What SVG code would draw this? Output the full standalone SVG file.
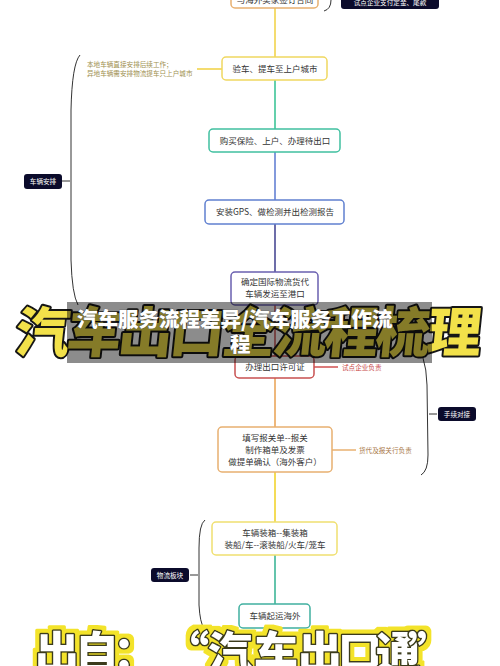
<svg xmlns="http://www.w3.org/2000/svg" width="500" height="666" viewBox="0 0 500 666">
<style>
.node rect{fill:#fff;stroke-width:1.5}
.nt{font-family:"Noto Sans CJK SC","Noto Sans",sans-serif;font-size:8.5px;fill:#333;text-anchor:middle}
.ann{font-family:"Noto Sans CJK SC","Noto Sans",sans-serif;font-size:6.6px}
.tag rect{fill:#0b0b2b}
.tag text{font-family:"Noto Sans CJK SC","Noto Sans",sans-serif;font-size:6.6px;fill:#fff;text-anchor:middle}
.br{fill:none;stroke:#333;stroke-width:1}
.big{font-family:"Noto Sans CJK SC",sans-serif;font-weight:900}
</style>
<defs>
<filter id="yglow" x="-5%" y="-30%" width="110%" height="160%">
<feMorphology in="SourceAlpha" operator="dilate" radius="4" result="d"/>
<feFlood flood-color="#f3e32a"/>
<feComposite in2="d" operator="in" result="y"/>
<feMerge><feMergeNode in="y"/><feMergeNode in="SourceGraphic"/></feMerge>
</filter>
</defs>
<rect width="500" height="666" fill="#fff"/>
<g id="connectors" fill="none" stroke-width="1.5">
<line x1="275" y1="8" x2="275" y2="57" stroke="#f0d040"/>
<line x1="275" y1="80" x2="275" y2="129" stroke="#30c090"/>
<line x1="275" y1="152" x2="275" y2="200" stroke="#5a78d0"/>
<line x1="275" y1="224" x2="275" y2="272" stroke="#3c3c8c"/>
<line x1="275" y1="305" x2="275" y2="356" stroke="#c85050"/>
<line x1="275" y1="378" x2="275" y2="427" stroke="#e8a050"/>
<line x1="275" y1="472" x2="275" y2="522" stroke="#f0d020"/>
<line x1="275" y1="555" x2="275" y2="604" stroke="#30b090"/>
<line x1="197" y1="69" x2="222" y2="69" stroke="#f0d040"/>
<line x1="314" y1="367" x2="338" y2="367" stroke="#d05050"/>
<line x1="332" y1="450" x2="356" y2="450" stroke="#e8b070"/>
<path class="br" d="M331,0 Q331,9 324,11"/>
<path class="br" d="M80,55 Q72,64 71,110 L71,260 Q72,294 78,305"/>
<line class="br" x1="62" y1="181" x2="70" y2="181"/>
<path class="br" d="M413,343 Q426,352 427,385 L428,455 Q428,471 421,475"/>
<line class="br" x1="429" y1="414" x2="437" y2="414"/>
<path class="br" d="M205,520 Q199,524 199,548 L199,605 Q200,623 204,628"/>
<line class="br" x1="190" y1="575" x2="198" y2="575"/>
</g>
<g id="n1" class="node"><rect x="231" y="-15" width="87" height="23" rx="4" stroke="#e8b070"/><text class="nt" x="275" y="3">与海外买家签订合同</text></g>
<g id="n2" class="node"><rect x="222" y="57" width="105" height="23" rx="4" stroke="#f0d860"/><text class="nt" x="275" y="72">验车、提车至上户城市</text></g>
<g id="n3" class="node"><rect x="209" y="129" width="131" height="23" rx="4" stroke="#40c0a0"/><text class="nt" x="275" y="144">购买保险、上户、办理待出口</text></g>
<g id="n4" class="node"><rect x="205" y="200" width="139" height="24" rx="4" stroke="#6080d0"/><text class="nt" x="275" y="215">安装GPS、做检测并出检测报告</text></g>
<g id="n5" class="node"><rect x="231" y="272" width="87" height="33" rx="4" stroke="#6a60b0"/><text class="nt" x="275" y="285">确定国际物流货代</text><text class="nt" x="275" y="297">车辆发运至港口</text></g>
<g id="n6" class="node"><rect x="235" y="356" width="79" height="22" rx="4" stroke="#c85050"/><text class="nt" x="275" y="370">办理出口许可证</text></g>
<g id="n7" class="node"><rect x="218" y="427" width="114" height="45" rx="4" stroke="#e8b070"/><text class="nt" x="275" y="441">填写报关单--报关</text><text class="nt" x="275" y="453">制作箱单及发票</text><text class="nt" x="275" y="465">做提单确认（海外客户）</text></g>
<g id="n8" class="node"><rect x="212" y="522" width="125" height="33" rx="4" stroke="#f0e070"/><text class="nt" x="275" y="536">车辆装箱--集装箱</text><text class="nt" x="275" y="548">装船/车--滚装船/火车/笼车</text></g>
<g id="n9" class="node"><rect x="239" y="604" width="71" height="24" rx="4" stroke="#40b0a0"/><text class="nt" x="275" y="619">车辆起运海外</text></g>
<g id="a1"><text class="ann" x="87" y="67" fill="#a09050">本地车辆直接安排后续工作；</text><text class="ann" x="87" y="76" fill="#a09050">异地车辆需安排物流提车只上户城市</text></g>
<g id="a2"><text class="ann" x="342" y="369.5" fill="#c84848">试点企业负责</text></g>
<g id="a3"><text class="ann" x="359" y="452.5" fill="#a87848">货代及报关行负责</text></g>
<g id="t1" class="tag"><rect x="341" y="-15" width="98" height="24" rx="3"/><text x="390" y="5">试点企业支付定金、尾款</text></g>
<g id="t2" class="tag"><rect x="24" y="174" width="38" height="15" rx="3"/><text x="43" y="184">车辆安排</text></g>
<g id="t3" class="tag"><rect x="438" y="407" width="38" height="14" rx="3"/><text x="457" y="416.5">手续对接</text></g>
<g id="t4" class="tag"><rect x="151" y="568" width="38" height="14" rx="3"/><text x="170" y="577.5">物流板块</text></g>
<g id="banner">
<g transform="translate(14,352) skewX(-6)">
<text class="big" x="0" y="0" font-size="54" letter-spacing="-2.5" fill="#f2e14a" stroke="#161616" stroke-width="4" stroke-linejoin="round" paint-order="stroke">汽车出口全流程梳理</text>
</g>
<rect x="67" y="302" width="365" height="61" fill="#000" opacity="0.45"/>
<text class="big" x="77" y="327" font-size="20.5" font-weight="700" fill="#fff" stroke="#555" stroke-width="0.6" paint-order="stroke">汽车服务流程差异/汽车服务工作流</text>
<text class="big" x="230" y="352" font-size="20.5" font-weight="700" fill="#fff" stroke="#555" stroke-width="0.6" paint-order="stroke">程</text>
</g>
<g id="source" filter="url(#yglow)">
<text class="big" font-size="44" text-anchor="middle" x="57 97 135 187 230 276 320 360 398 430" y="669" fill="#fff" stroke="#3a3a1a" stroke-width="3" stroke-linejoin="round" paint-order="stroke">出自：“汽车出口通”</text>
</g>
</svg>
